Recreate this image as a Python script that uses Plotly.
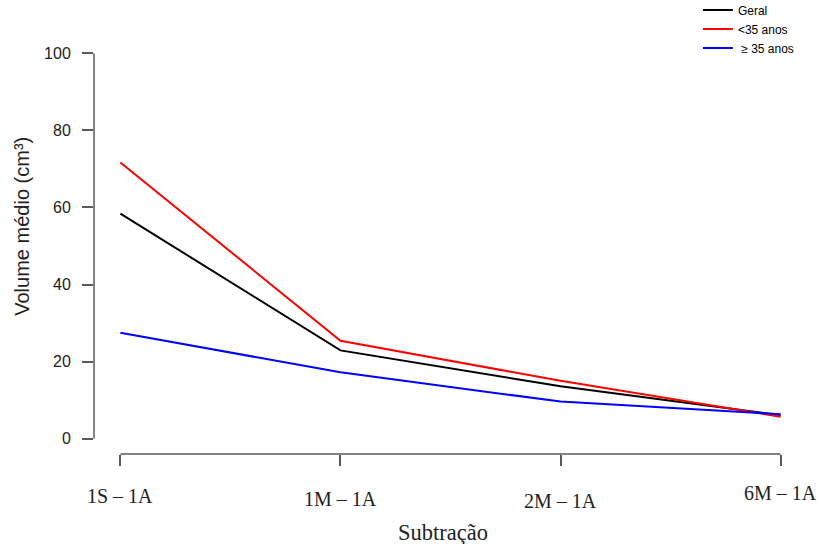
import plotly.graph_objects as go

# ---- data ----
categorias = ["1S – 1A", "1M – 1A", "2M – 1A", "6M – 1A"]
geral = [58.4, 22.9, 13.6, 6.1]
menor35 = [71.7, 25.4, 15.0, 5.7]
maior35 = [27.5, 17.2, 9.6, 6.3]
y_ticks = [0, 20, 40, 60, 80, 100]

series = [
    ("Geral", geral, "black"),
    ("<35 anos", menor35, "#ff0000"),
    ("\u00a0\u2265 35 anos", maior35, "#0000ff"),
]

xidx = list(range(len(categorias)))

fig = go.Figure()
for name, vals, col in series:
    fig.add_trace(go.Scatter(x=xidx, y=vals, mode="lines", name=name,
                             line=dict(color=col, width=2)))

axis_col = "#5a5a5a"
fig.update_layout(
    width=819, height=544,
    margin=dict(l=94, r=12, t=38, b=90, autoexpand=False),
    plot_bgcolor="white", paper_bgcolor="white",
    font=dict(family="Liberation Sans, Arial, sans-serif", color="#222"),
    showlegend=True,
    legend=dict(x=0.847, y=1.102, xanchor="left", yanchor="top",
                font=dict(size=12, color="black"), bgcolor="rgba(0,0,0,0)",
                tracegroupgap=0),
    xaxis=dict(range=[-0.12, 3.12], tickvals=xidx, showticklabels=False,
               ticks="outside", ticklen=11, tickwidth=1.5, tickcolor=axis_col,
               showgrid=False, zeroline=False, showline=False),
    yaxis=dict(range=[-4, 104], tickvals=y_ticks, ticks="outside", ticklen=11,
               tickwidth=1.5, tickcolor=axis_col, showgrid=False, zeroline=False,
               showline=False, tickfont=dict(size=16, color="#222"),
               ticklabelstandoff=8),
)

# axis lines spanning only the tick range (R style)
fig.add_shape(type="line", xref="paper", yref="y", x0=0, x1=0,
              y0=y_ticks[0], y1=y_ticks[-1], line=dict(color=axis_col, width=1.5))
fig.add_shape(type="line", xref="x", yref="paper", x0=xidx[0], x1=xidx[-1],
              y0=0, y1=0, line=dict(color=axis_col, width=1.5))

# x tick labels (serif, slightly staggered as in the original)
label_shift = [-42, -45, -47, -39]
for i, lab in enumerate(categorias):
    fig.add_annotation(x=xidx[i], xref="x", y=0, yref="paper", yshift=label_shift[i],
                       text=lab, showarrow=False, yanchor="middle", xanchor="center",
                       font=dict(family="Liberation Serif, Times New Roman, serif",
                                 size=20, color="#222"))

fig.add_annotation(x=0.5, xref="paper", xshift=-8, y=0, yref="paper", yshift=-78,
                   text="Subtração", showarrow=False, yanchor="middle",
                   font=dict(family="Liberation Serif, Times New Roman, serif",
                             size=22.5, color="#222"))

fig.add_annotation(x=0, xref="paper", xshift=-72, y=55, yref="y",
                   text="Volume médio (cm³)", textangle=-90, showarrow=False,
                   xanchor="center", yanchor="middle",
                   font=dict(size=20, color="#222"))

fig.write_html("out.html", config={"displayModeBar": False},
               post_script="document.body.style.margin='0';document.body.style.overflow='hidden';")
